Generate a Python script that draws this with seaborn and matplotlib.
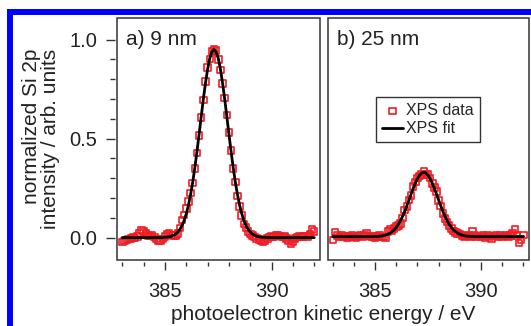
import numpy as np
import pandas as pd
import matplotlib
matplotlib.use("Agg")
import matplotlib.pyplot as plt
from matplotlib.patches import Rectangle
from matplotlib.ticker import FixedLocator
import seaborn as sns

# ---------------- data ----------------
energy = [
    383.0, 383.1, 383.2, 383.3, 383.4, 383.5, 383.6, 383.7, 383.8, 383.9,
    384.0, 384.1, 384.2, 384.3, 384.4, 384.5, 384.6, 384.7, 384.8, 384.9,
    385.0, 385.1, 385.2, 385.3, 385.4, 385.5, 385.6, 385.7, 385.8, 385.9,
    386.0, 386.1, 386.2, 386.3, 386.4, 386.5, 386.6, 386.7, 386.8, 386.9,
    387.0, 387.1, 387.2, 387.3, 387.4, 387.5, 387.6, 387.7, 387.8, 387.9,
    388.0, 388.1, 388.2, 388.3, 388.4, 388.5, 388.6, 388.7, 388.8, 388.9,
    389.0, 389.1, 389.2, 389.3, 389.4, 389.5, 389.6, 389.7, 389.8, 389.9,
    390.0, 390.1, 390.2, 390.3, 390.4, 390.5, 390.6, 390.7, 390.8, 390.9,
    391.0, 391.1, 391.2, 391.3, 391.4, 391.5, 391.6, 391.7, 391.8, 391.9,
    392.0,
]

data_9nm = [
    -0.022, -0.016, -0.012, -0.007, -0.004, 0.000, -0.002, 0.006, 0.020, 0.038,
    0.030, 0.020, 0.012, 0.008, 0.010, 0.004, -0.006, -0.014, -0.016, -0.008,
    0.006, 0.018, 0.020, 0.014, 0.012, 0.010, 0.020, 0.048, 0.090, 0.115,
    0.148, 0.182, 0.225, 0.276, 0.350, 0.428, 0.515, 0.606, 0.694, 0.788,
    0.858, 0.903, 0.940, 0.952, 0.944, 0.900, 0.846, 0.778, 0.706, 0.620,
    0.530, 0.440, 0.350, 0.282, 0.210, 0.158, 0.112, 0.070, 0.050, 0.030,
    0.018, 0.010, 0.004, -0.004, -0.010, -0.016, -0.020, -0.014, -0.004, 0.004,
    0.006, 0.002, 0.010, 0.014, 0.008, 0.004, 0.006, -0.004, -0.014, -0.030,
    -0.020, -0.004, 0.004, 0.006, 0.002, 0.006, 0.008, 0.004, 0.018, 0.040,
    0.030,
]

fit_9nm = [
    0.000, 0.000, 0.000, 0.000, 0.000, 0.000, 0.000, 0.000, 0.000, 0.000,
    0.000, 0.000, 0.000, 0.000, 0.000, 0.000, 0.000, 0.000, 0.000, 0.001,
    0.002, 0.003, 0.004, 0.007, 0.012, 0.018, 0.028, 0.042, 0.061, 0.087,
    0.121, 0.164, 0.217, 0.280, 0.353, 0.435, 0.522, 0.612, 0.700, 0.781,
    0.851, 0.905, 0.938, 0.950, 0.938, 0.905, 0.851, 0.781, 0.700, 0.612,
    0.522, 0.435, 0.353, 0.280, 0.217, 0.164, 0.121, 0.087, 0.061, 0.042,
    0.028, 0.018, 0.012, 0.007, 0.004, 0.003, 0.002, 0.001, 0.000, 0.000,
    0.000, 0.000, 0.000, 0.000, 0.000, 0.000, 0.000, 0.000, 0.000, 0.000,
    0.000, 0.000, 0.000, 0.000, 0.000, 0.000, 0.000, 0.000, 0.000, 0.000,
    0.000,
]

data_25nm = [
    -0.012, 0.028, 0.010, 0.004, 0.012, 0.002, 0.008, 0.000, 0.006, 0.010,
    0.004, -0.002, 0.008, 0.012, 0.006, 0.014, 0.020, 0.008, 0.002, 0.006,
    0.000, 0.006, 0.010, 0.004, 0.002, 0.000, 0.030, 0.040, 0.034, 0.046,
    0.056, 0.060, 0.072, 0.098, 0.140, 0.158, 0.190, 0.212, 0.258, 0.280,
    0.300, 0.310, 0.318, 0.334, 0.320, 0.318, 0.300, 0.272, 0.252, 0.232,
    0.188, 0.160, 0.122, 0.096, 0.078, 0.062, 0.046, 0.034, 0.026, 0.022,
    0.018, 0.010, 0.004, 0.008, 0.012, 0.006, 0.030, 0.010, 0.002, 0.008,
    0.004, 0.012, 0.000, 0.010, 0.006, -0.004, 0.008, 0.014, 0.002, 0.010,
    0.004, 0.008, 0.012, 0.002, 0.010, 0.020, 0.040, 0.012, -0.026, -0.010,
    0.013,
]

fit_25nm = [
    0.005, 0.005, 0.005, 0.005, 0.005, 0.005, 0.005, 0.005, 0.005, 0.005,
    0.005, 0.005, 0.005, 0.005, 0.005, 0.005, 0.005, 0.005, 0.005, 0.005,
    0.006, 0.006, 0.007, 0.008, 0.010, 0.013, 0.017, 0.022, 0.030, 0.039,
    0.052, 0.067, 0.086, 0.108, 0.133, 0.161, 0.190, 0.220, 0.249, 0.275,
    0.298, 0.315, 0.326, 0.330, 0.326, 0.315, 0.298, 0.275, 0.249, 0.220,
    0.190, 0.161, 0.133, 0.108, 0.086, 0.067, 0.052, 0.039, 0.030, 0.022,
    0.017, 0.013, 0.010, 0.008, 0.007, 0.006, 0.006, 0.005, 0.005, 0.005,
    0.005, 0.005, 0.005, 0.005, 0.005, 0.005, 0.005, 0.005, 0.005, 0.005,
    0.005, 0.005, 0.005, 0.005, 0.005, 0.005, 0.005, 0.005, 0.005, 0.005,
    0.005,
]

panel_labels = ["a) 9 nm", "b) 25 nm"]
series_labels = ["XPS data", "XPS fit"]
x_major = [385, 390]
x_minor = [383, 384, 386, 387, 388, 389, 391, 392]
y_major = [0.0, 0.5, 1.0]
y_minor = [0.1, 0.2, 0.3, 0.4, 0.6, 0.7, 0.8, 0.9]
x_label = "photoelectron kinetic energy / eV"
y_label = "normalized Si 2p\nintensity / arb. units"

# ---------------- style ----------------
sns.set_style("ticks")
plt.rcParams["font.family"] = ["Liberation Sans", "DejaVu Sans"]

RED = "#f01c24"
DARK = "#333333"
TXT = "#222222"
W, H = 531, 326

fig = plt.figure(figsize=(W / 100, H / 100), dpi=100)
fig.patch.set_facecolor("white")

ax_a = fig.add_axes([117 / W, (H - 260) / H, 203 / W, 242 / H])
ax_b = fig.add_axes([327.5 / W, (H - 260) / H, 201.5 / W, 242 / H])

panels = [
    (ax_a, data_9nm, fit_9nm, panel_labels[0]),
    (ax_b, data_25nm, fit_25nm, panel_labels[1]),
]

for i, (ax, dat, fit, lab) in enumerate(panels):
    df = pd.DataFrame({"energy": energy, "data": dat, "fit": fit})
    sns.scatterplot(data=df, x="energy", y="data", ax=ax, marker="s", s=22,
                    facecolor="none", edgecolor=RED, linewidth=1.2,
                    zorder=2, label=series_labels[0] if i == 1 else None)
    sns.lineplot(data=df, x="energy", y="fit", ax=ax, color="black",
                 linewidth=2.0, zorder=3,
                 label=series_labels[1] if i == 1 else None)
    ax.set_xlim(382.75, 392.27)
    ax.set_ylim(-0.113, 1.109)
    ax.set_xlabel("")
    ax.set_ylabel("")
    for sp in ax.spines.values():
        sp.set_visible(False)
    ax.spines["bottom"].set_position(("outward", 1.5))
    ax.spines["left"].set_position(("outward", 1.5))
    ax.add_patch(Rectangle((0, 0), 1, 1, transform=ax.transAxes, fill=False,
                           edgecolor=DARK, linewidth=1.1, clip_on=False,
                           zorder=5))
    ax.xaxis.set_major_locator(FixedLocator(x_major))
    ax.xaxis.set_minor_locator(FixedLocator(x_minor))
    ax.yaxis.set_major_locator(FixedLocator(y_major))
    ax.yaxis.set_minor_locator(FixedLocator(y_minor))
    ax.set_yticklabels(["0.0", "0.5", "1.0"])
    ax.tick_params(axis="x", which="major", length=6, width=1.0, color=DARK,
                   pad=8, labelsize=14.5, labelcolor=TXT, direction="out",
                   top=False)
    ax.tick_params(axis="x", which="minor", length=3, width=1.0, color=DARK,
                   direction="out", top=False)
    ax.tick_params(axis="y", which="major", length=6.5, width=1.0, color=DARK,
                   pad=6, labelsize=14.5, labelcolor=TXT, direction="out",
                   right=False)
    ax.tick_params(axis="y", which="minor", length=3.5, width=1.0, color=DARK,
                   direction="out", right=False)
    ax.text(0.045, 0.95, lab, transform=ax.transAxes, ha="left", va="top",
            fontsize=15, color=TXT)
    ax.grid(False)

ax_b.tick_params(axis="y", which="both", left=False, labelleft=False)
if ax_a.get_legend() is not None:
    ax_a.get_legend().remove()

leg = ax_b.legend(loc="upper left", bbox_to_anchor=(0.241, 0.674),
                  borderaxespad=0, frameon=True, fancybox=False,
                  framealpha=1, edgecolor=DARK, fontsize=11.5,
                  handlelength=1.3, handletextpad=0.2, borderpad=0.38,
                  labelspacing=0.2)
leg.get_frame().set_linewidth(1.0)

fig.text(323 / W, 6 / H, x_label, ha="center", va="baseline",
         fontsize=15, color=TXT)
fig.text(41 / W, (H - 139) / H, y_label, ha="center", va="center",
         rotation=90, multialignment="right", fontsize=15, color=TXT,
         linespacing=1.0)

# blue outer frame (cropped at right and bottom)
top_y = 1 - 12 / H
fig.patches.append(Rectangle((10.3 / W, -0.2), 2.0, top_y + 0.2,
                             transform=fig.transFigure, fill=False,
                             edgecolor="#0000ff", linewidth=4.3,
                             clip_on=False, zorder=10))

fig.savefig("out.png", dpi=100, facecolor="white")
